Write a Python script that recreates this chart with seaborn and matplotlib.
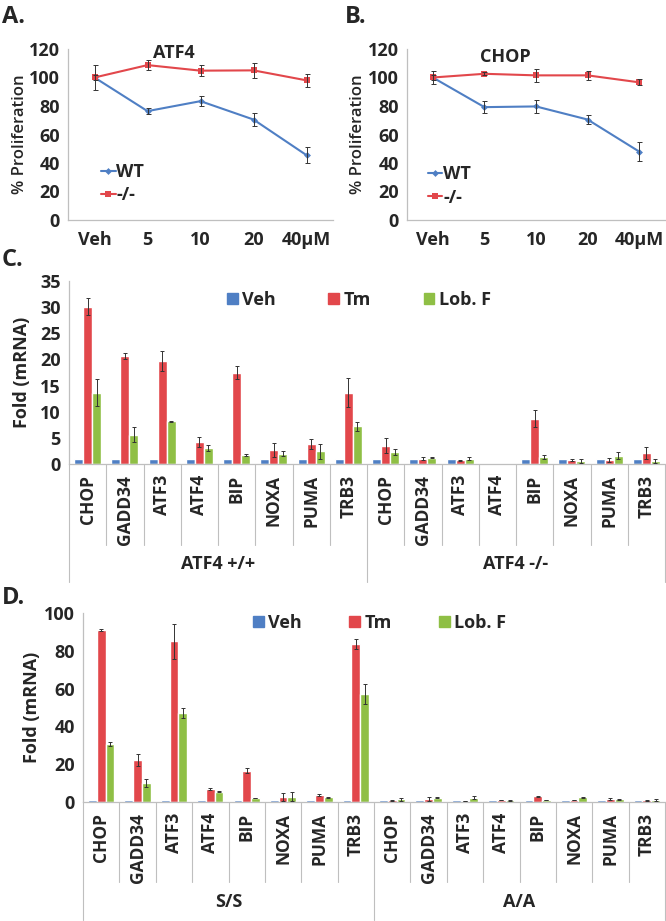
import numpy as np
import pandas as pd
import seaborn as sns
import matplotlib.pyplot as plt
from matplotlib.patches import Patch

sns.set_style("white")
plt.rcParams['font.family'] = ['Open Sans', 'DejaVu Sans']
plt.rcParams['font.weight'] = 'bold'
plt.rcParams['axes.labelweight'] = 'bold'

BLUE = '#4F7FC4'
RED = '#E2474B'
GREEN = '#8FBF45'
GRAY = '#BFBFBF'
ERR = '#333333'
nan = np.nan

# panels A/B - proliferation
doses = ['Veh', '5', '10', '20', '40µM']
atf4_wt = [100, 76.4, 83.4, 70.5, 45.5]
atf4_wt_err = [1.5, 2.0, 3.4, 4.3, 5.7]
atf4_ko = [100, 108.7, 104.8, 105.0, 98.0]
atf4_ko_err = [9.0, 3.5, 4.0, 5.4, 4.5]
chop_wt = [100, 79.2, 79.7, 70.5, 48.0]
chop_wt_err = [1.5, 4.3, 4.5, 3.0, 6.8]
chop_ko = [100, 102.6, 101.5, 101.5, 96.6]
chop_ko_err = [4.3, 1.0, 4.5, 3.0, 2.0]

# panels C/D - fold mRNA
genes = ['CHOP', 'GADD34', 'ATF3', 'ATF4', 'BIP', 'NOXA', 'PUMA', 'TRB3']
treatments = ['Veh', 'Tm', 'Lob. F']

c_groups = ['ATF4 +/+', 'ATF4 -/-']
c_veh = [1, 1, 1, 1, 1, 1, 1, 1, 1, 1, 1, nan, 1, 1, 1, 1]
c_tm = [30.1, 20.6, 19.7, 4.2, 17.5, 2.7, 3.85, 13.65, 3.5, 1.0, 0.7, nan, 8.65, 0.85, 0.7, 2.1]
c_tm_err = [1.6, 0.6, 1.9, 1.0, 1.3, 1.3, 0.9, 2.8, 1.4, 0.3, 0.1, nan, 1.6, 0.2, 0.4, 1.15]
c_lob = [13.6, 5.6, 8.2, 3.0, 1.7, 2.0, 2.4, 7.2, 2.3, 1.2, 1.0, nan, 1.35, 0.65, 1.6, 0.65]
c_lob_err = [2.6, 1.4, 0.1, 0.6, 0.2, 0.4, 1.4, 0.9, 0.6, 0.1, 0.3, nan, 0.4, 0.4, 0.6, 0.4]

d_groups = ['S/S', 'A/A']
d_veh = [1, 1, 1, 1, 1, 1, 1, 1, 1, 1, 1, 1, 1, 1, 1, 1]
d_tm = [90.8, 22.3, 85.0, 6.9, 16.6, 2.65, 3.9, 83.7, 0.8, 1.5, 0.6, 1.1, 3.0, 1.0, 1.6, 1.0]
d_tm_err = [0.5, 3.0, 9.2, 0.4, 1.4, 2.0, 0.5, 2.6, 0.2, 1.0, 0.1, 0.2, 0.2, 0.2, 0.3, 0.3]
d_lob = [30.7, 10.2, 47.2, 5.5, 2.1, 2.8, 2.5, 57.2, 1.5, 2.2, 2.3, 0.9, 1.0, 2.5, 1.4, 1.1]
d_lob_err = [1.0, 2.2, 2.6, 0.3, 0.2, 2.5, 0.4, 5.3, 0.8, 0.3, 0.9, 0.2, 0.2, 0.3, 0.4, 0.4]

W, H = 666, 921
fig = plt.figure(figsize=(W / 100, H / 100), dpi=100)
TICK_FS = 13


def px_axes(l, t, r, b):
    return fig.add_axes([l / W, 1 - b / H, (r - l) / W, (b - t) / H])


def style_axes(ax):
    sns.despine(ax=ax)
    for s in ['left', 'bottom']:
        ax.spines[s].set_color(GRAY)
        ax.spines[s].set_linewidth(0.9)
    ax.tick_params(axis='y', direction='out', length=4, width=0.9, color=GRAY,
                   labelsize=TICK_FS, pad=2)
    for lab in ax.get_xticklabels() + ax.get_yticklabels():
        lab.set_fontweight('bold')


def line_panel(ax, wt, wt_err, ko, ko_err, title, title_xy, leg_xy, lab_x):
    series = [(wt, wt_err, BLUE, 'D', 3.5, 'WT'), (ko, ko_err, RED, 's', 4.8, '-/-')]
    for vals, errs, col, mk, ms, lab in series:
        sns.lineplot(x=doses, y=vals, color=col, marker=mk, markersize=ms,
                     markeredgewidth=0, linewidth=1.5, label=lab, sort=False, ax=ax)
        xs = ax.lines[-1].get_xdata()
        ax.errorbar(xs, vals, yerr=errs, fmt='none', ecolor=ERR, elinewidth=0.7,
                    capsize=1.8, capthick=0.7, zorder=5)
    ax.set_ylim(0, 120)
    ax.set_yticks(range(0, 121, 20))
    ax.set_xlim(-0.5, 4.5)
    ax.set_xticks(np.arange(0.5, 4.6, 1), minor=True)
    ax.tick_params(axis='x', which='major', length=0, labelsize=TICK_FS, pad=8)
    ax.tick_params(axis='x', which='minor', direction='out', length=4, width=0.9, color=GRAY)
    style_axes(ax)
    ax.set_xlabel('')
    ax.set_ylabel('% Proliferation', fontsize=12, fontweight='semibold')
    ax.yaxis.set_label_coords(lab_x, 0.5)
    ax.text(title_xy[0], title_xy[1], title, transform=ax.transAxes, fontsize=13,
            fontweight='bold', ha='center', va='center')
    ax.legend(loc='center left', bbox_to_anchor=leg_xy, frameon=False,
              prop={'size': 13, 'weight': 'bold'},
              handlelength=0.8, handletextpad=0.05, labelspacing=0.3,
              borderpad=0, borderaxespad=0)


def bar_panel(ax, groups, veh, tm, tm_err, lob, lob_err, ymax, ystep, leg_xy, colsp, lab_x,
              short, long_):
    keys = [g + '|' + gene for g in groups for gene in genes]
    n = len(keys)
    df = pd.DataFrame({'key': keys * 3,
                       'treat': [t for t in treatments for _ in keys],
                       'fold': veh + tm + lob})
    errs = {'Veh': [0] * n, 'Tm': tm_err, 'Lob. F': lob_err}
    sns.barplot(data=df, x='key', y='fold', hue='treat', order=keys, hue_order=treatments,
                palette=[BLUE, RED, GREEN], saturation=1, width=0.72, errorbar=None,
                legend=False, ax=ax)
    for cont, t in zip(ax.containers, treatments):
        for bar in cont:
            h = bar.get_height()
            if np.isnan(h):
                continue
            i = int(round(bar.get_x() + bar.get_width() / 2))
            e = errs[t][i]
            if e and not np.isnan(e):
                ax.errorbar(bar.get_x() + bar.get_width() / 2, h, yerr=e, fmt='none',
                            ecolor=ERR, elinewidth=0.7, capsize=1.6, capthick=0.7, zorder=5)
    ax.set_ylim(0, ymax)
    ax.set_yticks(np.arange(0, ymax + 0.1, ystep))
    ax.set_xlim(-0.5, n - 0.5)
    ax.set_xticks(range(n))
    ax.set_xticklabels(genes * len(groups), rotation=90, fontsize=12.5)
    ax.tick_params(axis='x', length=0, pad=8)
    style_axes(ax)
    ax.set_xlabel('')
    ax.set_ylabel('Fold (mRNA)', fontsize=13, fontweight='bold')
    ax.yaxis.set_label_coords(lab_x, 0.5)
    trans = ax.get_xaxis_transform()
    for b in np.arange(-0.5, n, 1):
        y1 = -long_ if (b + 0.5) % len(genes) == 0 else -short
        ax.plot([b, b], [0, y1], color=GRAY, lw=0.8, transform=trans, clip_on=False)
    for k, g in enumerate(groups):
        ax.text(k * len(genes) + (len(genes) - 1) / 2, -(short + long_) / 2 - 0.005, g,
                transform=trans, ha='center', va='center', fontsize=13, fontweight='bold')
    handles = [Patch(color=c, label=t) for c, t in zip([BLUE, RED, GREEN], treatments)]
    ax.legend(handles=handles, ncol=3, loc='center left', bbox_to_anchor=leg_xy,
              bbox_transform=fig.transFigure, frameon=False,
              prop={'size': 13, 'weight': 'bold'},
              handlelength=0.6, handleheight=0.6, handletextpad=0.25,
              columnspacing=colsp, borderpad=0, borderaxespad=0)


ax_a = px_axes(68, 49, 333, 220)
line_panel(ax_a, atf4_wt, atf4_wt_err, atf4_ko, atf4_ko_err, 'ATF4',
           (0.40, 0.975), (0.125, 0.213), -0.15)
ax_b = px_axes(407, 49, 665, 220)
line_panel(ax_b, chop_wt, chop_wt_err, chop_ko, chop_ko_err, 'CHOP',
           (0.38, 0.953), (0.081, 0.20), -0.16)

ax_c = px_axes(69, 281, 665, 464)
bar_panel(ax_c, c_groups, c_veh, c_tm, c_tm_err, c_lob, c_lob_err, 35, 5,
          (227 / W, 1 - 300 / H), 2.9, -0.063, 0.443, 0.645)
ax_d = px_axes(83, 613, 665, 802)
bar_panel(ax_d, d_groups, d_veh, d_tm, d_tm_err, d_lob, d_lob_err, 100, 20,
          (253 / W, 1 - 623 / H), 2.6, -0.072, 0.423, 0.624)

for lab, x, y in [('A.', 2, 5), ('B.', 345, 5), ('C.', 2, 248), ('D.', 2, 586)]:
    fig.text(x / W, 1 - y / H, lab, fontsize=17, fontweight='bold', ha='left', va='top')

fig.savefig('out.png', dpi=100)
